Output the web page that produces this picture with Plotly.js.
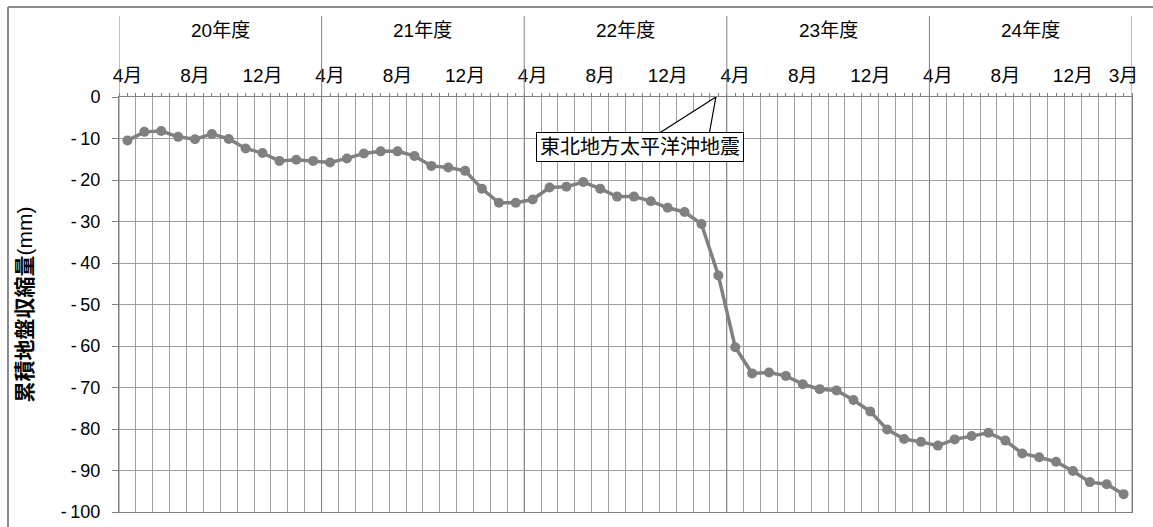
<!DOCTYPE html>
<html>
<head>
<meta charset="utf-8">
<script src="https://cdn.plot.ly/plotly-3.0.1.min.js"></script>
<style>html,body{margin:0;padding:0;background:#fff;}#chart{width:1153px;height:527px;}</style>
</head>
<body>
<div id="chart"></div>
<script>
// ---- data ----
const fiscalYears = ['20年度', '21年度', '22年度', '23年度', '24年度'];
const monthNames = ['4月', '5月', '6月', '7月', '8月', '9月', '10月', '11月', '12月', '1月', '2月', '3月'];
const labeledMonths = ['4月', '8月', '12月'];
// cumulative ground subsidence (mm), one value per month, Apr (FY20) .. Mar (FY24)
const subsidence = [
  -10.5, -8.4, -8.2, -9.6, -10.2, -8.9, -10.1, -12.4, -13.5, -15.4, -15.1, -15.4,
  -15.8, -14.8, -13.6, -13.1, -13.1, -14.2, -16.6, -17.0, -17.8, -22.1, -25.5, -25.5,
  -24.7, -21.8, -21.6, -20.5, -22.1, -24.0, -24.0, -25.1, -26.7, -27.7, -30.6, -43.0,
  -60.3, -66.6, -66.4, -67.2, -69.2, -70.4, -70.7, -73.0, -75.8, -80.1, -82.4, -83.1,
  -84.0, -82.5, -81.7, -80.9, -82.8, -85.9, -86.8, -87.9, -90.1, -92.8, -93.3, -95.7
];
const yTickValues = [0, -10, -20, -30, -40, -50, -60, -70, -80, -90, -100];
const yAxisTitle = '<b>累積地盤収縮量</b>(mm)';
const quakeLabel = '東北地方太平洋沖地震';
const quakeMonthKey = '22年度 3月';   // event occurred in March of FY22
const quakeDayFraction = 11 / 31;

// ---- derived ----
const monthKeys = [];
const monthOfKey = [];
fiscalYears.forEach(fy => monthNames.forEach(m => { monthKeys.push(fy + ' ' + m); monthOfKey.push(m); }));
const xIdx = monthKeys.map((k, i) => i);
const n = monthKeys.length;

const tickVals = [], tickText = [];
monthOfKey.forEach((m, i) => {
  if (labeledMonths.includes(m) || i === n - 1) { tickVals.push(i); tickText.push(m); }
});

const fontFam = 'Liberation Sans, Arial, Noto Sans CJK JP, sans-serif';
const gray = '#808080';
const gridGray = '#9e9e9e';

// pixel helpers for the figure geometry
const W = 1153, H = 527, mL = 119, mR = 21, mT = 97, mB = 15;
const pw = W - mL - mR, ph = H - mT - mB;
const px2paperX = px => (px - mL) / pw;
const py2paperY = py => (H - mB - py) / ph;

const shapes = [];
// year separators extending above the plot
for (let y = 0; y <= fiscalYears.length; y++) {
  const b = y * 12 - 0.5;
  shapes.push({type: 'line', xref: 'x', yref: 'paper', x0: b, x1: b, y0: 0, y1: py2paperY(16),
    line: {color: gray, width: 1}, layer: 'above'});
}
// outer frame (left + top edges visible)
shapes.push({type: 'line', xref: 'paper', yref: 'paper', x0: px2paperX(8), x1: px2paperX(8),
  y0: py2paperY(7), y1: py2paperY(530), line: {color: '#8c8c8c', width: 2}});
shapes.push({type: 'line', xref: 'paper', yref: 'paper', x0: px2paperX(8), x1: px2paperX(1160),
  y0: py2paperY(7), y1: py2paperY(7), line: {color: '#8c8c8c', width: 2}});

// callout wedge pointing at the earthquake date
const quakeX = monthKeys.indexOf(quakeMonthKey) - 0.5 + quakeDayFraction;
const boxCx = 30.35, boxCy = -12.1;
shapes.push({type: 'path', xref: 'x', yref: 'y',
  path: `M ${boxCx + 1.0},${boxCy + 3} L ${quakeX},0 L ${boxCx + 4.1},${boxCy + 3} Z`,
  fillcolor: '#ffffff', line: {color: '#000', width: 1.2}, layer: 'above'});

const annotations = fiscalYears.map((fy, y) => ({
  text: fy, xref: 'x', yref: 'paper', x: y * 12 + 5.5, y: py2paperY(31),
  xanchor: 'center', yanchor: 'middle',
  showarrow: false, font: {family: fontFam, size: 19, color: '#000'}
}));
annotations.push({
  text: yAxisTitle, xref: 'paper', yref: 'paper', x: px2paperX(24), y: 0.5,
  xanchor: 'center', yanchor: 'middle',
  textangle: -90, showarrow: false, font: {family: fontFam, size: 21, color: '#000'}
});
annotations.push({
  text: quakeLabel, xref: 'x', yref: 'y', x: boxCx, y: boxCy, showarrow: false,
  xanchor: 'center', yanchor: 'middle',
  bgcolor: '#ffffff', bordercolor: '#000', borderwidth: 1, borderpad: 3,
  font: {family: fontFam, size: 20, color: '#000'}
});

const traces = [
  {x: xIdx, y: subsidence, type: 'scatter', mode: 'lines+markers',
   line: {color: gray, width: 3.5}, marker: {color: gray, size: 10},
   hoverinfo: 'skip', showlegend: false, xaxis: 'x', yaxis: 'y', cliponaxis: false},
  {x: xIdx, y: subsidence, type: 'scatter', mode: 'lines', opacity: 0,
   hoverinfo: 'skip', showlegend: false, xaxis: 'x2', yaxis: 'y'}
];

const layout = {
  width: W, height: H,
  margin: {l: mL, r: mR, t: mT, b: mB, pad: 0},
  paper_bgcolor: '#fff', plot_bgcolor: '#fff',
  font: {family: fontFam, size: 18, color: '#000'},
  showlegend: false,
  xaxis: {
    range: [-0.5, n - 0.5], side: 'top', tickmode: 'linear', tick0: -0.5, dtick: 1,
    showgrid: true, gridcolor: gridGray, gridwidth: 1, zeroline: false,
    showticklabels: false, ticks: 'outside', ticklen: 3, tickcolor: gray,
    minor: {tickmode: 'linear', tick0: 0, dtick: 1, ticks: 'outside', ticklen: 3, tickcolor: gray, showgrid: false},
    showline: true, linecolor: gray, mirror: true, fixedrange: true
  },
  xaxis2: {
    overlaying: 'x', anchor: 'y', side: 'top', range: [-0.5, n - 0.5],
    tickmode: 'array', tickvals: tickVals, ticktext: tickText,
    ticks: '', showgrid: false, zeroline: false, showline: false,
    ticklabelstandoff: 10, tickfont: {family: fontFam, size: 19, color: '#000'}, fixedrange: true
  },
  yaxis: {
    range: [-100, 0], tickmode: 'array', tickvals: yTickValues,
    ticktext: yTickValues.map(v => v < 0 ? '-\u2009' + Math.abs(v) : String(v)),
    ticks: 'outside', ticklen: 6, tickcolor: gray, ticklabelstandoff: 8,
    showgrid: true, gridcolor: gridGray, gridwidth: 1, zeroline: false,
    showline: true, linecolor: gray, mirror: true,
    tickfont: {family: fontFam, size: 18, color: '#000'}, fixedrange: true
  },
  shapes: shapes,
  annotations: annotations
};

Plotly.newPlot('chart', traces, layout, {staticPlot: true, displayModeBar: false});
</script>
</body>
</html>
